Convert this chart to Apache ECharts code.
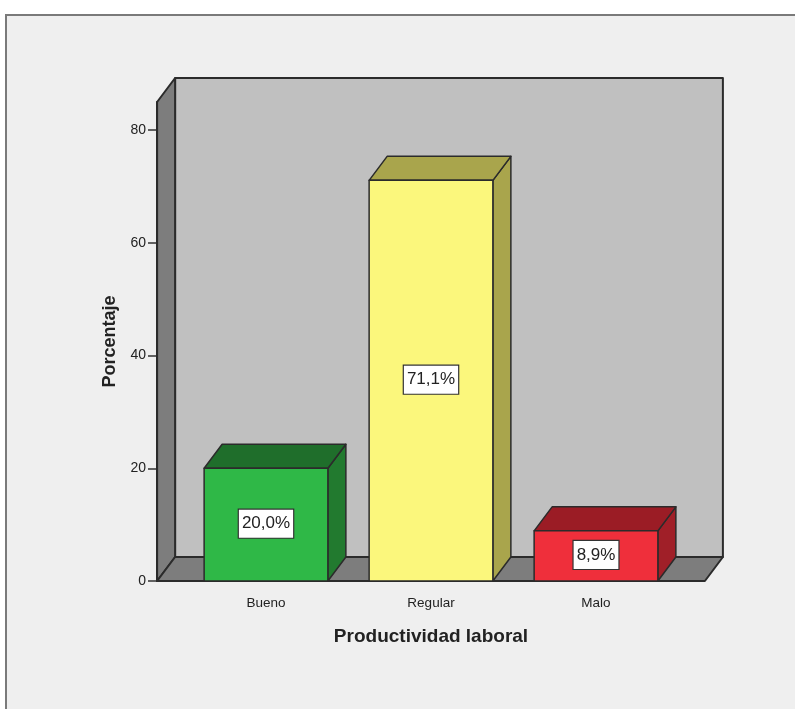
<!DOCTYPE html>
<html>
<head>
<meta charset="utf-8">
<script src="https://cdn.jsdelivr.net/npm/echarts@6/dist/echarts.min.js"></script>
<style>
  html, body { margin: 0; padding: 0; background: #fff; }
  #chart { width: 795px; height: 709px; }
</style>
</head>
<body>
<div id="chart"></div>
<script>
var categories = ["Bueno", "Regular", "Malo"];
var values = [20.0, 71.1, 8.9];
var valueLabels = ["20,0%", "71,1%", "8,9%"];
var yTicks = [0, 20, 40, 60, 80];

// front / top / side colours per bar
var barColors = [
  { front: "#2fb847", top: "#1f6e2b", side: "#227a2f" },
  { front: "#fbf77c", top: "#a9a54c", side: "#a9a54c" },
  { front: "#ef2f3b", top: "#9b1c25", side: "#a01f28" }
];

var depthX = 18, depthY = -24;
var edge = "#2b2b2b";
var fontColor = "#222";
var fontFamily = "'Liberation Sans', Arial, sans-serif";

var myChart = echarts.init(document.getElementById("chart"));

function renderWalls(params, api) {
  var c0 = api.coord([0, 0]);
  var c2 = api.coord([2, 0]);
  var band = (c2[0] - c0[0]) / 2;
  var xl = c0[0] - band * 0.66;
  var xr = c2[0] + band * 0.66;
  var yb = c0[1];
  var yt = api.coord([0, 85])[1];
  var style = { stroke: edge, lineWidth: 2, lineJoin: "round" };
  return {
    type: "group",
    children: [
      {
        type: "polygon",
        shape: { points: [[xl + depthX, yt + depthY], [xr + depthX, yt + depthY], [xr + depthX, yb + depthY], [xl + depthX, yb + depthY]] },
        style: Object.assign({ fill: "#c0c0c0" }, style)
      },
      {
        type: "polygon",
        shape: { points: [[xl, yb], [xl, yt], [xl + depthX, yt + depthY], [xl + depthX, yb + depthY]] },
        style: Object.assign({ fill: "#7d7d7d" }, style)
      },
      {
        type: "polygon",
        shape: { points: [[xl, yb], [xr, yb], [xr + depthX, yb + depthY], [xl + depthX, yb + depthY]] },
        style: Object.assign({ fill: "#7d7d7d" }, style)
      }
    ]
  };
}

function renderBar(params, api) {
  var i = api.value(0);
  var top = api.coord([i, api.value(1)]);
  var bottom = api.coord([i, 0]);
  var w = api.size([1, 0])[0] * 0.75;
  var xl = top[0] - w / 2, xr = top[0] + w / 2;
  var yt = top[1], yb = bottom[1];
  var col = barColors[params.dataIndex];
  var st = { stroke: edge, lineWidth: 1.5, lineJoin: "round" };
  return {
    type: "group",
    children: [
      {
        type: "polygon",
        shape: { points: [[xr, yt], [xr + depthX, yt + depthY], [xr + depthX, yb + depthY], [xr, yb]] },
        style: Object.assign({ fill: col.side }, st)
      },
      {
        type: "polygon",
        shape: { points: [[xl, yt], [xl + depthX, yt + depthY], [xr + depthX, yt + depthY], [xr, yt]] },
        style: Object.assign({ fill: col.top }, st)
      },
      {
        type: "rect",
        shape: { x: xl, y: yt, width: w, height: yb - yt },
        style: Object.assign({ fill: col.front }, st)
      },
      {
        type: "text",
        x: top[0],
        y: (yt + yb) / 2 - 1,
        style: {
          text: valueLabels[params.dataIndex],
          fill: fontColor,
          font: "17px " + fontFamily,
          align: "center",
          verticalAlign: "middle",
          backgroundColor: "#fff",
          borderColor: "#333",
          borderWidth: 1.2,
          padding: [6, 3, 5, 3]
        }
      }
    ]
  };
}

var option = {
  backgroundColor: "#fff",
  animation: false,
  graphic: [
    {
      type: "rect",
      z: -10,
      shape: { x: 6, y: 15, width: 820, height: 720 },
      style: { fill: "#efefef", stroke: "#7a7a7a", lineWidth: 2 }
    }
  ],
  grid: {
    left: 183.5,
    right: 116.5,
    top: 102,
    bottom: 128
  },
  xAxis: {
    type: "category",
    data: categories,
    name: "Productividad laboral",
    nameLocation: "middle",
    nameGap: 46,
    nameTextStyle: {
      fontSize: 19,
      fontWeight: "bold",
      color: fontColor,
      fontFamily: fontFamily
    },
    axisLine: { show: false },
    axisTick: {
      alignWithLabel: true,
      length: 10,
      lineStyle: { color: "#333", width: 1.5 }
    },
    axisLabel: {
      margin: 15,
      fontSize: 13.5,
      color: fontColor,
      fontFamily: fontFamily
    },
    splitLine: { show: false }
  },
  yAxis: {
    type: "value",
    min: 0,
    max: 85,
    interval: 20,
    offset: 26.5,
    name: "Porcentaje",
    nameLocation: "middle",
    nameGap: 38,
    nameTextStyle: {
      fontSize: 18,
      fontWeight: "bold",
      color: fontColor,
      fontFamily: fontFamily
    },
    axisLine: { show: true, lineStyle: { color: edge, width: 2 } },
    axisTick: {
      show: true,
      length: 9,
      customValues: yTicks,
      lineStyle: { color: "#333", width: 1.5 }
    },
    axisLabel: {
      margin: 11,
      fontSize: 14,
      color: fontColor,
      customValues: yTicks,
      fontFamily: fontFamily
    },
    splitLine: { show: false }
  },
  series: [
    {
      type: "custom",
      z: 1,
      silent: true,
      clip: false,
      renderItem: renderWalls,
      data: [[0, 0]]
    },
    {
      type: "custom",
      z: 2,
      clip: false,
      renderItem: renderBar,
      data: values.map(function (v, i) { return [i, v]; })
    }
  ]
};

myChart.setOption(option);
window.addEventListener("resize", function () {
  myChart.resize();
});
</script>
</body>
</html>
